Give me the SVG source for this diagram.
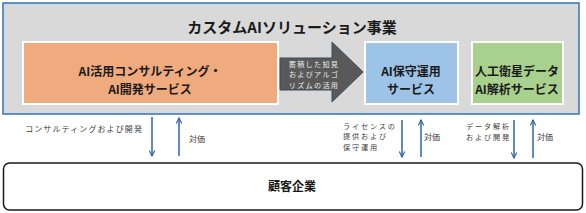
<svg xmlns="http://www.w3.org/2000/svg" width="586" height="213" viewBox="0 0 586 213">
<defs>
<style>
text{font-family:"Noto Sans CJK JP","Noto Sans",sans-serif;}
.t{font-weight:bold;fill:#1a1a1a;text-anchor:middle;}
.lbl{font-size:8px;fill:#404040;}
.sm{font-size:7.2px;fill:#404040;letter-spacing:1.8px;}
.sp{letter-spacing:1.1px;}
.ar{stroke:#2f62b0;stroke-width:1.5;fill:none;marker-end:url(#ah);}
.box{stroke:#ffffff;stroke-width:2;}
</style>
<marker id="ah" viewBox="0 0 10 10" refX="9" refY="5" markerWidth="7" markerHeight="7" markerUnits="userSpaceOnUse" orient="auto">
<path d="M1,1 L9,5 L1,9" fill="none" stroke="#2f62b0" stroke-width="1.6"/>
</marker>
</defs>
<g id="business">
<rect x="3" y="3" width="576" height="111" fill="#d9d9d9" stroke="#2e75b6" stroke-width="1.5"/>
<text class="t" x="292" y="33" font-size="15">カスタムAIソリューション事業</text>
</g>
<g id="consulting">
<rect class="box" x="23" y="42" width="255" height="62" fill="#efab7e"/>
<text class="t" x="150" y="76" font-size="12">AI活用コンサルティング・</text>
<text class="t" x="150" y="94" font-size="12">AI開発サービス</text>
</g>
<g id="knowhow">
<path d="M280,58 L332,58 L332,42 L363,72 L332,102 L332,90 L280,90 Z" fill="#595959" stroke="#3a4a66" stroke-width="1"/>
<text font-size="7.2" fill="#ececec" text-anchor="middle" letter-spacing="1.2"><tspan x="314" y="66.5">蓄積した知見</tspan><tspan x="314" y="77">およびアルゴ</tspan><tspan x="314" y="87.5">リズムの活用</tspan></text>
</g>
<g id="maintenance">
<rect class="box" x="365" y="42" width="93" height="62" fill="#9dc3e6"/>
<text class="t" x="411" y="76" font-size="12">AI保守運用</text>
<text class="t" x="411" y="94" font-size="12">サービス</text>
</g>
<g id="satellite">
<rect class="box" x="472" y="42" width="91" height="62" fill="#a9d18e"/>
<text class="t" x="517" y="76" font-size="12">人工衛星データ</text>
<text class="t" x="517" y="94" font-size="12">AI解析サービス</text>
</g>
<g id="customer">
<rect x="3.5" y="163" width="579" height="47" rx="6" fill="#ffffff" stroke="#1a1a1a" stroke-width="1.5"/>
<text class="t" x="292" y="191" font-size="12">顧客企業</text>
</g>
<g id="connectors">
<line class="ar" x1="152" y1="117" x2="152" y2="156"/>
<line class="ar" x1="179" y1="156" x2="179" y2="118"/>
<line class="ar" x1="402" y1="120" x2="402" y2="157"/>
<line class="ar" x1="421" y1="157" x2="421" y2="120"/>
<line class="ar" x1="514" y1="120" x2="514" y2="158"/>
<line class="ar" x1="533" y1="158" x2="533" y2="120"/>
</g>
<g id="labels">
<text class="lbl sp" x="143" y="132" text-anchor="end">コンサルティングおよび開発</text>
<text class="lbl" x="189" y="142">対価</text>
<text class="sm"><tspan x="343" y="128.5">ライセンスの</tspan><tspan x="343" y="139">提供および</tspan><tspan x="343" y="149.5">保守運用</tspan></text>
<text class="lbl" x="424" y="140">対価</text>
<text class="sm"><tspan x="466" y="129">データ解析</tspan><tspan x="466" y="139.5">および開発</tspan></text>
<text class="lbl" x="537" y="140">対価</text>
</g>
</svg>
